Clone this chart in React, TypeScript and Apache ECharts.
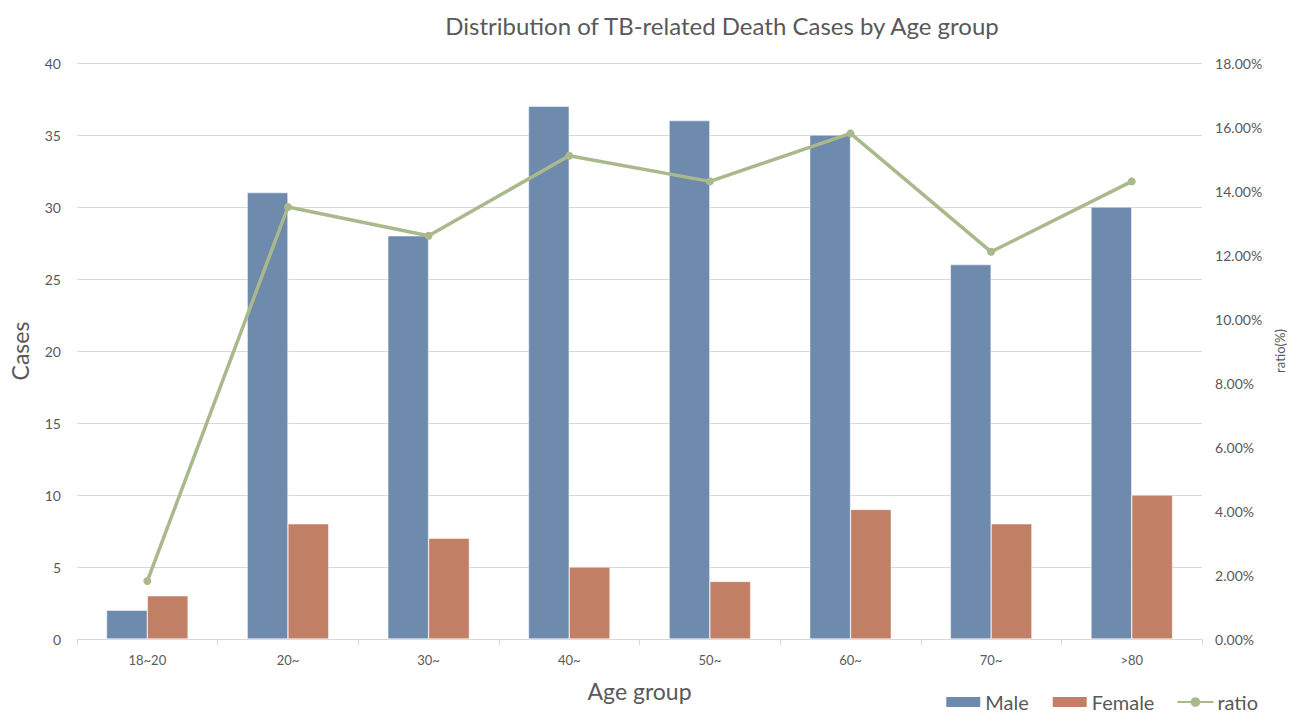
import React, { useEffect, useRef } from "react";
import * as echarts from "echarts";

const categories = ["18~20", "20~", "30~", "40~", "50~", "60~", "70~", ">80"];
const maleValues = [2, 31, 28, 37, 36, 35, 26, 30];
const femaleValues = [3, 8, 7, 5, 4, 9, 8, 10];
const ratioValues = [1.81, 13.5, 12.6, 15.1, 14.3, 15.8, 12.1, 14.3];

const FONT = "Lato, 'Open Sans', sans-serif";
const TXT = "#595959";

export default function App() {
  const ref = useRef<HTMLDivElement>(null);
  useEffect(() => {
    if (!ref.current) return;
    const chart = echarts.init(ref.current, null, { renderer: "svg" });
    chart.setOption({
      animation: false,
      textStyle: { fontFamily: FONT },
      title: {
        text: "Distribution of TB-related Death Cases by Age group",
        left: 717,
        top: 8,
        textAlign: "center",
        textStyle: { fontFamily: FONT, fontSize: 24, fontWeight: "normal", color: TXT },
      },
      legend: {
        right: 36,
        top: 692,
        padding: 0,
        itemWidth: 36,
        itemHeight: 12,
        itemGap: 22,
        textStyle: { fontFamily: FONT, fontSize: 20, lineHeight: 20, color: TXT, padding: [0, 0, 0, -1] },
        data: [
          { name: "Male", icon: "rect" },
          { name: "Female", icon: "rect" },
          { name: "ratio" },
        ],
      },
      grid: { left: 71, right: 80, top: 63, bottom: 78 },
      xAxis: {
        type: "category",
        data: categories,
        name: "Age group",
        nameLocation: "middle",
        nameGap: 40,
        nameTextStyle: { fontFamily: FONT, fontSize: 23, color: TXT },
        axisLine: { lineStyle: { color: "#d9d9d9" } },
        axisTick: { show: true, alignWithLabel: false, length: 6, lineStyle: { color: "#d9d9d9" } },
        axisLabel: { fontFamily: FONT, fontSize: 13, color: TXT, margin: 14 },
      },
      yAxis: [
        {
          type: "value",
          min: 0,
          max: 40,
          interval: 5,
          name: "Cases",
          nameLocation: "middle",
          nameGap: 46,
          nameTextStyle: { fontFamily: FONT, fontSize: 23, color: TXT },
          axisLine: { show: false },
          axisTick: { show: false },
          axisLabel: { fontFamily: FONT, fontSize: 14, color: TXT, margin: 16 },
          splitLine: { lineStyle: { color: "#d9d9d9" } },
        },
        {
          type: "value",
          min: 0,
          max: 18,
          interval: 2,
          name: "ratio(%)",
          nameLocation: "middle",
          nameGap: 58,
          nameTextStyle: { fontFamily: FONT, fontSize: 13, color: TXT },
          axisLine: { show: false },
          axisTick: { show: false },
          splitLine: { show: false },
          axisLabel: {
            fontFamily: FONT,
            fontSize: 14,
            color: TXT,
            margin: 13,
            formatter: (v: number) => v.toFixed(2) + "%",
          },
        },
      ],
      series: [
        {
          name: "Male",
          type: "bar",
          data: maleValues,
          barGap: "0%",
          barCategoryGap: "42%",
          itemStyle: { color: "#6E8AAD", borderColor: "#ffffff", borderWidth: 0.5 },
        },
        {
          name: "Female",
          type: "bar",
          data: femaleValues,
          itemStyle: { color: "#C17F66", borderColor: "#ffffff", borderWidth: 0.5 },
        },
        {
          name: "ratio",
          type: "line",
          yAxisIndex: 1,
          data: ratioValues,
          symbol: "circle",
          symbolSize: 8,
          lineStyle: { color: "#AAB98B", width: 3.5 },
          itemStyle: { color: "#AAB98B" },
        },
      ],
    });
    return () => chart.dispose();
  }, []);
  return (
    <div
      ref={ref}
      style={{ position: "absolute", left: 0, top: 0, width: 1294, height: 717, background: "#fff" }}
    />
  );
}
